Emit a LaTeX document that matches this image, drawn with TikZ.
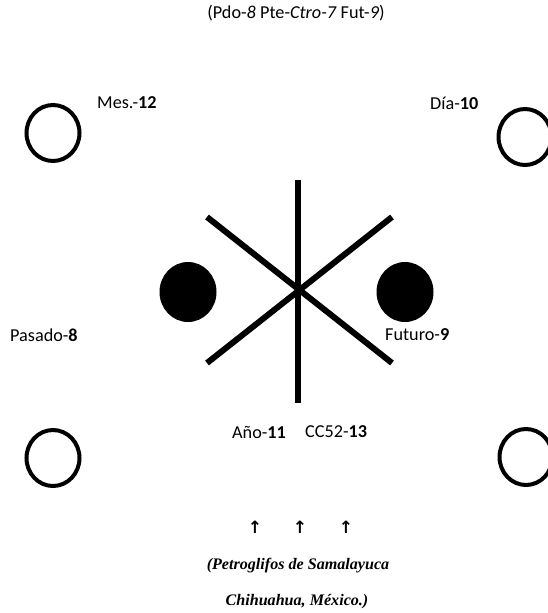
\documentclass[tikz,border=0pt]{standalone}
\usepackage{fontspec}
\setmainfont{Carlito}
\newfontfamily\serifbi{Liberation Serif}
\newfontfamily\symfont{DejaVu Sans}
\begin{document}
\begin{tikzpicture}[x=1pt,y=-1pt,
  lbl/.style={inner sep=0pt,font=\fontsize{18.2}{21}\selectfont},
  ring/.style={draw,line width=4pt},
  blob/.style={fill=black},
  bar/.style={line width=6pt},
  captxt/.style={inner sep=0pt,font=\fontsize{16.1}{19}\serifbi\bfseries\itshape},
  arr/.style={inner sep=0pt,font=\fontsize{17}{19}\symfont\bfseries}]
\useasboundingbox (0,0) rectangle (548,613);
\node[lbl] (title) at (296,13) {(Pdo-\textit{8} Pte-\textit{Ctro-7} Fut-\textit{9})};
% rings
\draw[ring] (53,133) ellipse [x radius=26.5, y radius=28];
\draw[ring] (525,137) ellipse [x radius=26.5, y radius=28];
\draw[ring] (53,458) ellipse [x radius=26.5, y radius=28];
\draw[ring] (526,457) ellipse [x radius=26.5, y radius=28];
\node[lbl,anchor=west] (mes) at (97,103) {Mes.-\textbf{12}};
\node[lbl,anchor=west] (dia) at (430,103) {Día-\textbf{10}};
\node[lbl,anchor=west] (pas) at (10,335) {Pasado-\textbf{8}};
\node[lbl,anchor=west] (fut) at (385,335) {Futuro-\textbf{9}};
\node[lbl,anchor=west] (ano) at (232,432) {Año-\textbf{11}};
\node[lbl,anchor=west] (cc) at (305,432) {CC52-\textbf{13}};
% star
\coordinate (c) at (298,290);
\coordinate (vt) at (298,180);
\coordinate (vb) at (298,403);
\coordinate (ul) at (207,217);
\coordinate (lr) at (392,363);
\coordinate (ll) at (207,363);
\coordinate (ur) at (392,217);
\draw[bar] (vt) -- (vb);
\draw[bar] (ul) -- (lr);
\draw[bar] (ll) -- (ur);
\fill[blob] (188,292) ellipse [x radius=28.5, y radius=30];
\fill[blob] (405,292) ellipse [x radius=28.5, y radius=30];
% arrows
\node[arr] (a1) at (255,527) {↑};
\node[arr] (a2) at (300,527) {↑};
\node[arr] (a3) at (346,527) {↑};
\node[captxt] (p1) at (298,566) {(Petroglifos de Samalayuca};
\node[captxt] (p2) at (297,602) {Chihuahua, México.)};
\end{tikzpicture}
\end{document}
